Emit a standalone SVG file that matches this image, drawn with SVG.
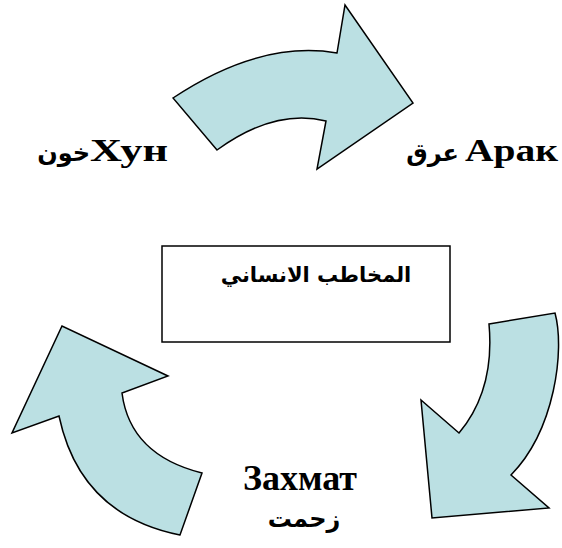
<svg xmlns="http://www.w3.org/2000/svg" width="562" height="548" viewBox="0 0 562 548">
<style>
.arrow{fill:#BBE0E3;stroke:#000;stroke-width:1.5;stroke-linejoin:miter}
.box{fill:#fff;stroke:#000;stroke-width:1.5}
.lbl{font-family:"Liberation Serif","DejaVu Serif",serif;font-weight:bold;fill:#000}
.ar{font-family:"DejaVu Sans","Liberation Serif",serif;font-weight:bold;fill:#000}
</style>
<rect width="562" height="548" fill="#fff"/>
<g id="connectors">
<path id="arrow-top" class="arrow" d="M173,98 Q260,40 337,53 L345,5 L413,103 L317,169 L326,121 Q275,108 217,150 Z"/>
<path id="arrow-right" class="arrow" d="M489,324 L555,313 C565,350 555,430 511,475 L549,508 L432,518 L421,400 L459,433 Q495,390 489,324 Z"/>
<path id="arrow-left" class="arrow" d="M180,535 Q80,515 59,416 L12,433 L62,326 L168,376 L122,393 Q130,455 202,473 Z"/>
</g>
<g id="node-center">
<rect class="box" x="162" y="246" width="288" height="96"/>
<text class="ar" x="316" y="282" font-size="21" text-anchor="middle" direction="rtl">المخاطب الانساني</text>
</g>
<g id="node-khun">
<text class="ar" x="90" y="161" font-size="24" text-anchor="end">خون</text>
<text class="lbl" x="90" y="161" font-size="32" textLength="78" lengthAdjust="spacingAndGlyphs">Хун</text>
</g>
<g id="node-arak">
<text class="ar" x="459" y="161" font-size="24" text-anchor="end">عرق</text>
<text class="lbl" x="465" y="161" font-size="32" textLength="93" lengthAdjust="spacingAndGlyphs">Арак</text>
</g>
<g id="node-zahmat">
<text class="lbl" x="243" y="490" font-size="36" textLength="114" lengthAdjust="spacingAndGlyphs">Захмат</text>
<text class="ar" x="304" y="527" font-size="24" text-anchor="middle">زحمت</text>
</g>
</svg>
